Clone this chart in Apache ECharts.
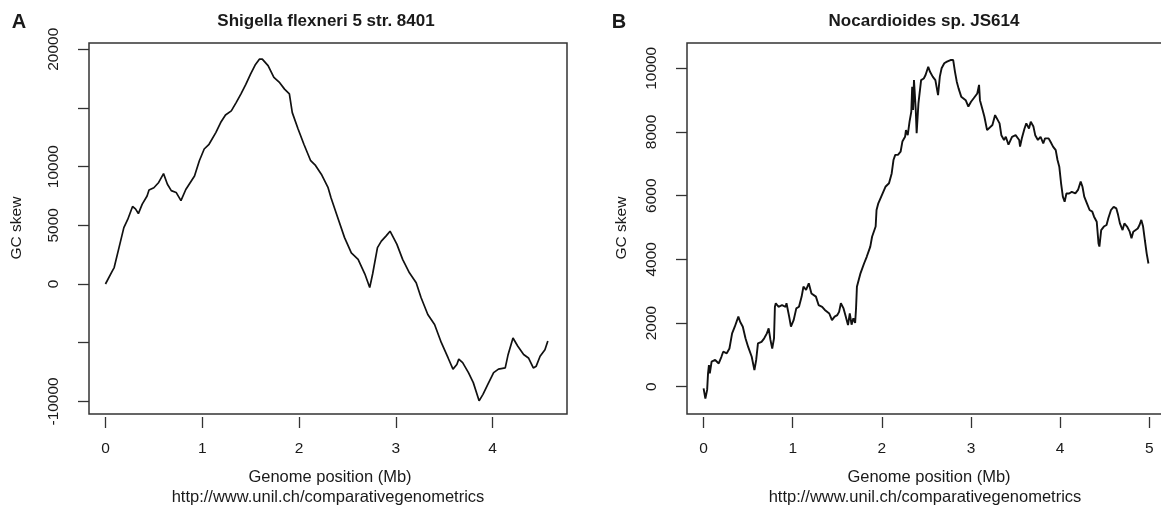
<!DOCTYPE html>
<html>
<head>
<meta charset="utf-8">
<script src="https://cdn.jsdelivr.net/npm/echarts@6/dist/echarts.min.js"></script>
<style>
html,body{margin:0;padding:0;background:#fff;}
#c{width:1161px;height:508px;}
</style>
</head>
<body>
<div id="c"></div>
<script>
// ---- Panel A: Shigella flexneri 5 str. 8401 ----
var titleA = 'Shigella flexneri 5 str. 8401';
var posA = [0,0.07,0.09,0.14,0.19,0.23,0.28,0.31,0.34,0.38,0.43,0.45,0.50,0.55,0.60,0.64,0.68,0.73,0.78,0.83,0.92,0.97,1.02,1.07,1.14,1.19,1.24,1.30,1.35,1.40,1.45,1.50,1.55,1.59,1.62,1.68,1.74,1.80,1.85,1.90,1.93,1.99,2.05,2.12,2.17,2.23,2.30,2.33,2.40,2.47,2.54,2.61,2.68,2.73,2.76,2.81,2.85,2.90,2.94,3.01,3.07,3.14,3.21,3.26,3.33,3.40,3.47,3.54,3.59,3.63,3.65,3.69,3.75,3.80,3.86,3.90,3.95,4.01,4.06,4.13,4.16,4.21,4.26,4.32,4.37,4.42,4.45,4.49,4.54,4.57];
var skewA = [0,1100,1400,3100,4800,5500,6600,6400,6000,6800,7500,8000,8200,8650,9400,8500,7950,7800,7100,8050,9200,10500,11500,11900,12900,13750,14400,14750,15450,16200,17000,17900,18700,19150,19150,18600,17600,17150,16600,16200,14600,13200,11900,10500,10100,9350,8200,7350,5650,3950,2650,2100,850,-300,850,3100,3650,4100,4500,3400,2100,950,100,-1150,-2600,-3450,-5000,-6300,-7250,-6850,-6400,-6700,-7550,-8400,-9950,-9400,-8550,-7550,-7250,-7150,-6000,-4600,-5300,-6000,-6300,-7150,-7000,-6150,-5600,-4850];
var xTicksA = [0,1,2,3,4];
var yTicksA = [-10000,-5000,0,5000,10000,15000,20000];
var yLabelsA = [-10000,0,5000,10000,20000];

// ---- Panel B: Nocardioides sp. JS614 ----
var titleB = 'Nocardioides sp. JS614';
var posB = [0,0.02,0.04,0.05,0.06,0.07,0.09,0.13,0.17,0.20,0.22,0.26,0.29,0.32,0.35,0.39,0.41,0.44,0.47,0.50,0.54,0.57,0.59,0.61,0.65,0.68,0.71,0.73,0.75,0.77,0.79,0.80,0.81,0.84,0.88,0.92,0.93,0.96,0.98,1.01,1.04,1.07,1.10,1.12,1.15,1.18,1.21,1.23,1.26,1.29,1.33,1.36,1.38,1.41,1.44,1.47,1.50,1.52,1.54,1.57,1.59,1.62,1.64,1.66,1.68,1.70,1.71,1.72,1.76,1.80,1.83,1.87,1.89,1.93,1.94,1.96,2.00,2.04,2.08,2.11,2.13,2.15,2.18,2.21,2.23,2.26,2.27,2.29,2.31,2.33,2.34,2.35,2.36,2.38,2.39,2.41,2.44,2.47,2.49,2.52,2.54,2.57,2.60,2.63,2.65,2.67,2.70,2.73,2.77,2.80,2.82,2.84,2.86,2.89,2.91,2.94,2.97,3.00,3.03,3.07,3.09,3.10,3.13,3.15,3.18,3.20,3.24,3.27,3.29,3.32,3.34,3.37,3.39,3.42,3.46,3.50,3.54,3.55,3.57,3.60,3.62,3.65,3.67,3.70,3.72,3.75,3.78,3.81,3.83,3.87,3.89,3.92,3.95,3.97,3.99,4.01,4.03,4.05,4.07,4.10,4.13,4.17,4.20,4.23,4.25,4.27,4.30,4.33,4.36,4.38,4.41,4.43,4.44,4.46,4.49,4.52,4.54,4.57,4.60,4.63,4.65,4.67,4.70,4.72,4.75,4.78,4.80,4.82,4.84,4.87,4.89,4.91,4.93,4.95,4.97,4.99];
var skewB = [-50,-370,-100,420,680,420,785,840,730,940,1100,1050,1200,1675,1885,2200,2040,1885,1520,1250,940,520,840,1360,1410,1520,1675,1830,1470,1200,1520,2510,2620,2510,2565,2510,2620,2200,1885,2090,2460,2510,2830,3140,3040,3250,2930,2880,2830,2565,2510,2410,2460,2300,2090,2200,2250,2350,2620,2460,2250,1935,2300,1950,2150,2000,2450,3140,3560,3870,4080,4400,4710,5030,5550,5760,6020,6280,6390,6700,7120,7280,7280,7380,7700,7850,8060,7900,8320,8640,9420,8690,9630,8690,7960,8900,9630,9680,9790,10050,9890,9740,9630,9160,9740,10000,10160,10210,10260,10260,9890,9580,9370,9110,9060,9000,8800,8950,9060,9210,9480,9000,8690,8480,8060,8110,8220,8530,8590,8270,7900,7750,7850,7600,7850,7900,7750,7540,7800,8110,8270,8110,8320,8170,7900,7750,7850,7640,7800,7800,7700,7540,7430,7120,6910,6390,5970,5810,6070,6070,6120,6070,6180,6440,6280,5970,5760,5550,5500,5340,5180,4500,4400,4920,5030,5080,5290,5550,5650,5600,5390,5130,4920,5130,5030,4870,4660,4870,4920,4970,5080,5240,5030,4600,4190,3870];
var xTicksB = [0,1,2,3,4,5];
var yTicksB = [0,2000,4000,6000,8000,10000];
var yLabelsB = [0,2000,4000,6000,8000,10000];

var xName = 'Genome position (Mb)';
var yName = 'GC skew';
var url = 'http://www.unil.ch/comparativegenometrics';

function pairs(xs, ys){ return xs.map(function(x,i){ return [x, ys[i]]; }); }

var FONT = 'Liberation Sans, Arial, sans-serif';
var TXT = '#1a1a1a';

function xAxisCfg(grid, min, max, ticks){
  return {
    type:'value', gridIndex:grid, min:min, max:max, offset:3, position:'bottom',
    axisLine:{show:false, onZero:false}, splitLine:{show:false},
    axisTick:{show:true, customValues:ticks, length:11, lineStyle:{color:'#333', width:1.3}},
    axisLabel:{customValues:ticks, margin:24, fontSize:15.5, fontFamily:FONT, color:TXT,
      formatter:function(v){return String(v);}}
  };
}
function yAxisCfg(grid, min, max, ticks, labels){
  return {
    type:'value', gridIndex:grid, min:min, max:max, position:'left',
    axisLine:{show:false, onZero:false}, splitLine:{show:false},
    axisTick:{show:true, customValues:ticks, length:11, lineStyle:{color:'#333', width:1.3}},
    axisLabel:{customValues:labels, rotate:90, margin:27, fontSize:15.5, fontFamily:FONT, color:TXT,
      formatter:function(v){return String(v);}}
  };
}

function txt(x, y, s, font, rot){
  return {type:'text', x:x, y:y, rotation:rot||0, silent:true,
    style:{text:s, font:font, fill:TXT, textAlign:'center', textVerticalAlign:'middle'}};
}

var chart = echarts.init(document.getElementById('c'), null, {renderer:'canvas'});
chart.setOption({
  animation:false,
  backgroundColor:'#ffffff',
  grid:[
    {left:89, top:43, width:478, height:371, show:true, borderColor:'#333', borderWidth:1.5, backgroundColor:'transparent', containLabel:false, outerBoundsMode:'none'},
    {left:687, top:43, width:479, height:371, show:true, borderColor:'#333', borderWidth:1.5, backgroundColor:'transparent', containLabel:false, outerBoundsMode:'none'}
  ],
  xAxis:[ xAxisCfg(0, -0.17, 4.768, xTicksA), xAxisCfg(1, -0.186, 5.187, xTicksB) ],
  yAxis:[ yAxisCfg(0, -11073, 20528, yTicksA, yLabelsA), yAxisCfg(1, -857, 10795, yTicksB, yLabelsB) ],
  series:[
    {type:'line', xAxisIndex:0, yAxisIndex:0, data:pairs(posA, skewA), showSymbol:false,
      lineStyle:{color:'#111', width:1.7}},
    {type:'line', xAxisIndex:1, yAxisIndex:1, data:pairs(posB, skewB), showSymbol:false,
      lineStyle:{color:'#111', width:1.9}}
  ],
  graphic:[
    txt(19, 22, 'A', 'bold 20px ' + FONT),
    txt(619, 22, 'B', 'bold 20px ' + FONT),
    txt(326, 21.5, titleA, 'bold 17px ' + FONT),
    txt(924, 21.5, titleB, 'bold 17px ' + FONT),
    txt(17, 228, yName, '15.5px ' + FONT, Math.PI/2),
    txt(622, 228, yName, '15.5px ' + FONT, Math.PI/2),
    txt(330, 477, xName, '16.5px ' + FONT),
    txt(929, 477, xName, '16.5px ' + FONT),
    txt(328, 497, url, '16.5px ' + FONT),
    txt(925, 497, url, '16.5px ' + FONT)
  ]
});
</script>
</body>
</html>
